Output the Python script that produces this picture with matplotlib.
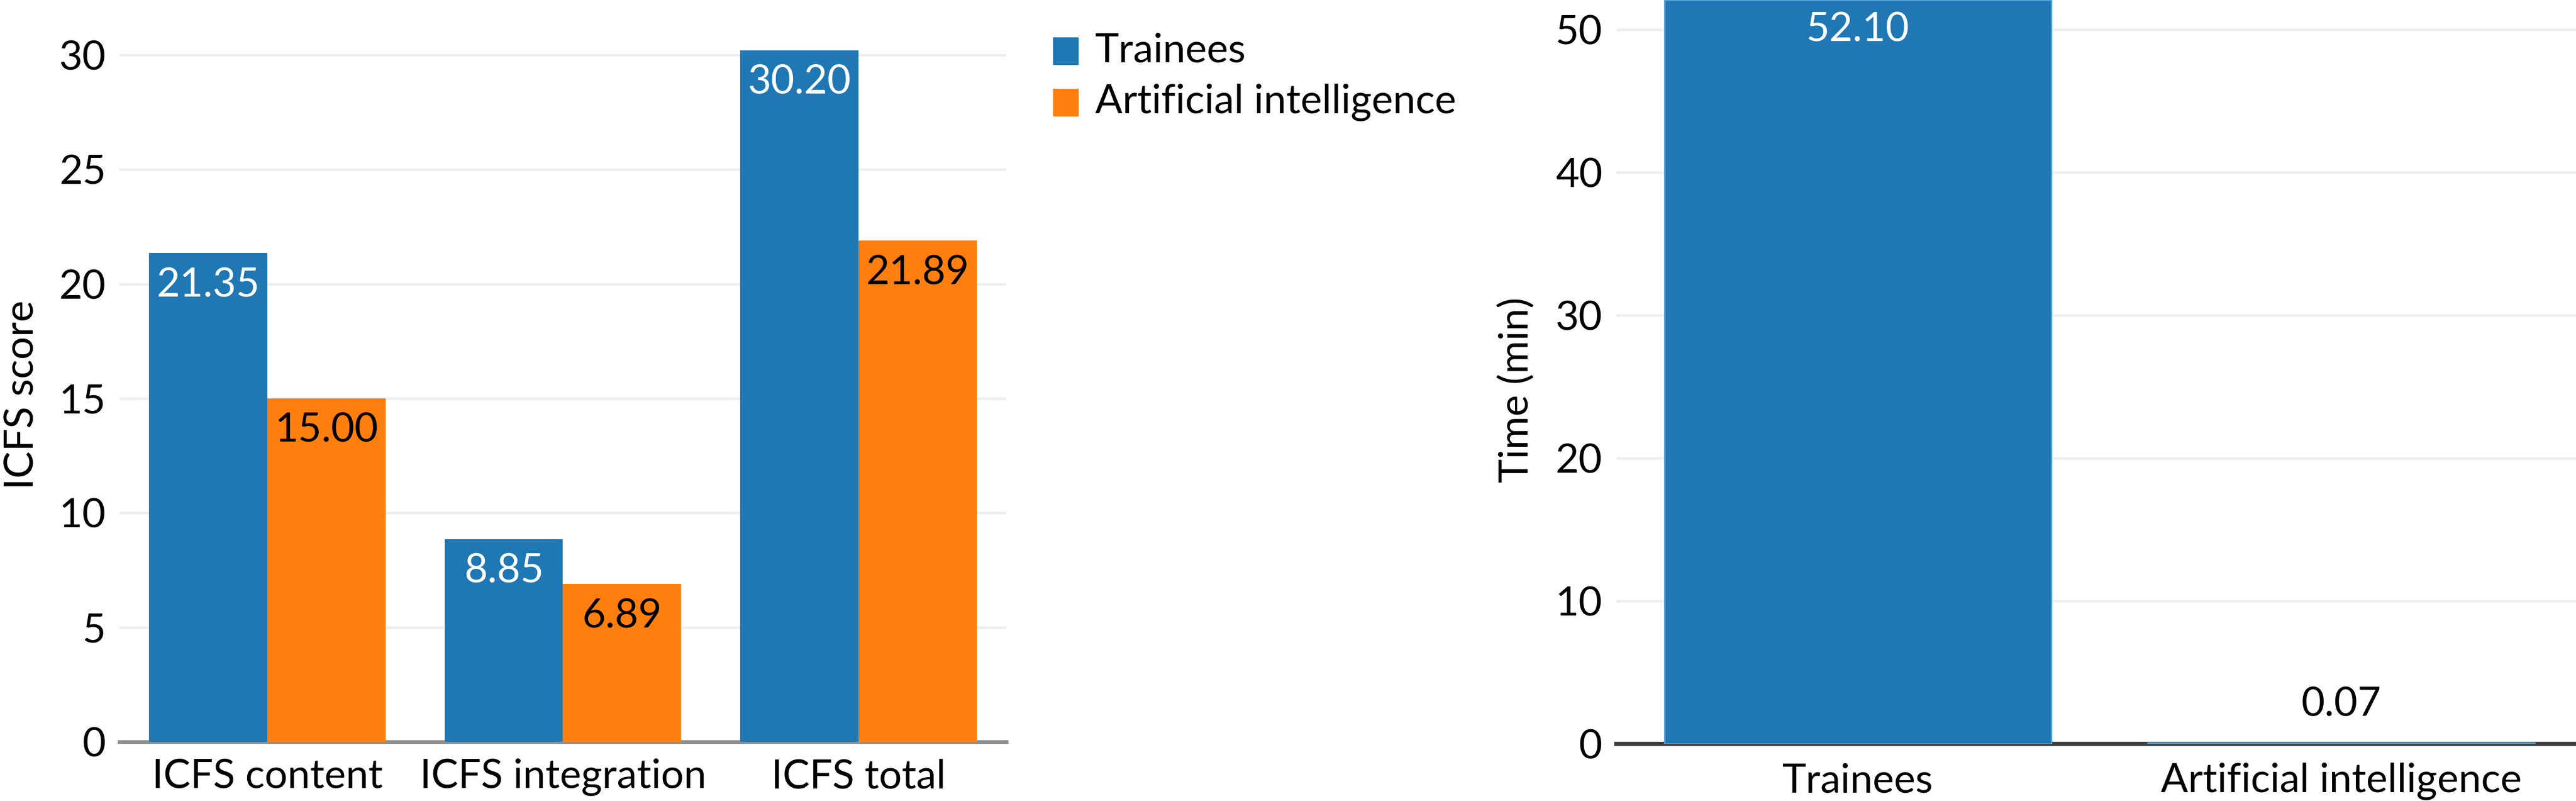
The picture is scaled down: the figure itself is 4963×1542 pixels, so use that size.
import matplotlib
matplotlib.use("Agg")
import matplotlib.pyplot as plt
import numpy as np

plt.rcParams['font.family'] = ['Lato', 'DejaVu Sans']
plt.rcParams['font.weight'] = 'normal'

categories = ["ICFS content", "ICFS integration", "ICFS total"]
trainees_scores = [21.35, 8.85, 30.20]
ai_scores = [15.00, 6.89, 21.89]
series_names = ["Trainees", "Artificial intelligence"]
time_groups = ["Trainees", "Artificial intelligence"]
time_values = [52.10, 0.07]
left_yticks = [0, 5, 10, 15, 20, 25, 30]
right_yticks = [0, 10, 20, 30, 40, 50]

BLUE = "#1f77b4"
ORANGE = "#ff7f0e"
GRID = "#eeeeee"
FS = 56

W, H = 4963, 1542
fig = plt.figure(figsize=(W / 100, H / 100), dpi=100)

def px_to_pt(px):
    return px * 72 / 100

# ---------- Left chart ----------
axL = fig.add_axes([230 / W, (H - 1428) / H, 1709 / W, 1428 / H])
x = np.arange(len(categories))
bw = 0.4
bL1 = axL.bar(x - bw / 2, trainees_scores, bw, color=BLUE, zorder=2)
bL2 = axL.bar(x + bw / 2, ai_scores, bw, color=ORANGE, zorder=2)
axL.set_xlim(-0.5, 2.5)
axL.set_ylim(0, 32.4)
axL.set_yticks(left_yticks)
axL.set_yticklabels([str(t) for t in left_yticks], fontsize=FS)
axL.set_xticks(x)
axL.set_xticklabels(categories, fontsize=FS)
for t in left_yticks[1:]:
    axL.axhline(t, color=GRID, lw=px_to_pt(5), zorder=1)
axL.axhline(0, color="#8c8c8c", lw=px_to_pt(7), zorder=1.5, clip_on=False)
for s in axL.spines.values():
    s.set_visible(False)
axL.tick_params(axis='both', length=0)
axL.tick_params(axis='y', pad=px_to_pt(26))
axL.tick_params(axis='x', pad=px_to_pt(32))

for bars, vals, col in [(bL1, trainees_scores, "white"), (bL2, ai_scores, "black")]:
    for b, v in zip(bars, vals):
        axL.annotate(f"{v:.2f}", xy=(b.get_x() + b.get_width() / 2, v),
                     xytext=(0, -px_to_pt(27)), textcoords="offset points",
                     ha="center", va="top", fontsize=FS, color=col, zorder=4)

fig.text(43 / W, 1 - 760 / H, "ICFS score", rotation=90, ha="center", va="center", fontsize=FS)

# Legend (manual, figure coords)
for i, (name, col) in enumerate(zip(series_names, [BLUE, ORANGE])):
    yc = [98, 197][i]
    fig.patches.append(plt.Rectangle((2029 / W, 1 - (yc + 26) / H), 48 / W, 52 / H,
                                     transform=fig.transFigure, color=col))
    fig.text(2110 / W, 1 - yc / H, name, ha="left", va="center", fontsize=FS)

# ---------- Right chart ----------
axR = fig.add_axes([3114 / W, (H - 1432) / H, 1862 / W, 1432 / H])
xr = np.arange(len(time_groups))
bR = axR.bar(xr, time_values, 0.8, color=BLUE, edgecolor="#5a9fd4",
             linewidth=px_to_pt(3), zorder=2)
axR.set_xlim(-0.5, 1.5)
axR.set_ylim(0, 52.09)
axR.set_yticks(right_yticks)
axR.set_yticklabels([str(t) for t in right_yticks], fontsize=FS)
axR.set_xticks(xr)
axR.set_xticklabels(time_groups, fontsize=FS)
for t in right_yticks[1:]:
    axR.axhline(t, color=GRID, lw=px_to_pt(5), zorder=1)
axR.axhline(0, color="#3c3c3c", lw=px_to_pt(8), zorder=1.5, clip_on=False)
for s in axR.spines.values():
    s.set_visible(False)
axR.tick_params(axis='both', length=0)
axR.tick_params(axis='y', pad=px_to_pt(27))
axR.tick_params(axis='x', pad=px_to_pt(36))

for b, v in zip(bR, time_values):
    cx = b.get_x() + b.get_width() / 2
    if v > 5:
        axR.annotate(f"{v:.2f}", xy=(cx, 52.09), xytext=(0, -px_to_pt(22)),
                     textcoords="offset points", ha="center", va="top",
                     fontsize=FS, color="white", zorder=4)
    else:
        axR.annotate(f"{v:.2f}", xy=(cx, v), xytext=(0, px_to_pt(38)),
                     textcoords="offset points", ha="center", va="bottom",
                     fontsize=FS, color="black", zorder=4)

fig.text(2922 / W, 1 - 751 / H, "Time (min)", rotation=90, ha="center", va="center", fontsize=FS)

fig.savefig("out.png", dpi=100, facecolor="white")
